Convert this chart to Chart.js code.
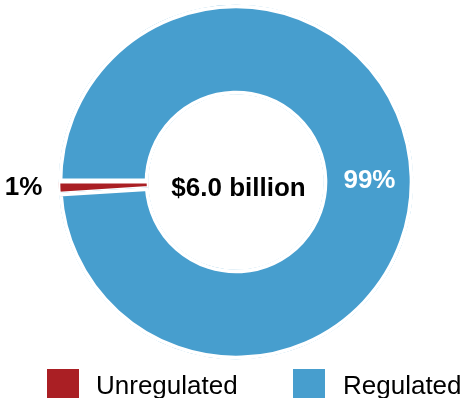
<!DOCTYPE html>
<html><head><meta charset="utf-8">
<script src="https://cdn.jsdelivr.net/npm/chart.js@4/dist/chart.umd.min.js"></script>
<style>
html,body{margin:0;padding:0;background:#fff;}
#wrap{position:relative;width:465px;height:398px;overflow:hidden;font-family:"Liberation Sans",Arial,Helvetica,sans-serif;}
canvas{position:absolute;left:0;top:0;}
.lg-box{position:absolute;top:369px;width:32px;height:29px;}
.lg-text{position:absolute;top:371px;font-size:26px;line-height:29px;color:#000;white-space:nowrap;}
</style></head><body>
<div id="wrap"><canvas id="c" width="465" height="398"></canvas><div id="legend"></div></div>
<script>
// ---- data ----
const categories = ['Unregulated', 'Regulated'];
const shares = [1, 99];
const centerLabel = '$6.0 billion';

// ---- styles ----
const sliceColors = ['#AA1F24', '#479ECE'];
const legendBoxX = [47, 293];
const legendTextX = [96, 343];

// HTML legend built from categories
const lg = document.getElementById('legend');
categories.forEach((c, i) => {
  const b = document.createElement('div');
  b.className = 'lg-box';
  b.style.left = legendBoxX[i] + 'px';
  b.style.background = sliceColors[i];
  lg.appendChild(b);
  const t = document.createElement('div');
  t.className = 'lg-text';
  t.style.left = legendTextX[i] + 'px';
  t.textContent = c;
  lg.appendChild(t);
});

const labelPlugin = {
  id: 'sliceLabels',
  afterDatasetsDraw(chart) {
    const ctx = chart.ctx;
    const meta = chart.getDatasetMeta(0);
    const a0 = meta.data[0];
    const cx = a0.x, cy = a0.y;
    ctx.save();
    ctx.font = 'bold 26px "Liberation Sans", Arial, Helvetica, sans-serif';
    ctx.textAlign = 'center';
    ctx.textBaseline = 'alphabetic';
    ctx.fillStyle = '#000';
    ctx.fillText(centerLabel, cx + 2.5, cy + 14);
    meta.data.forEach((arc, i) => {
      const txt = shares[i] + '%';
      const mid = (arc.startAngle + arc.endAngle) / 2;
      if (shares[i] < 5) {
        const r = arc.outerRadius + 35;
        ctx.fillStyle = '#000';
        ctx.fillText(txt, cx + Math.cos(mid) * r, cy + Math.sin(mid) * r + 6.5);
      } else {
        const p = arc.tooltipPosition();
        ctx.fillStyle = '#fff';
        ctx.fillText(txt, p.x + 1, p.y + 10);
      }
    });
    ctx.restore();
  }
};

new Chart(document.getElementById('c'), {
  type: 'doughnut',
  data: {
    labels: categories,
    datasets: [{
      data: shares,
      backgroundColor: sliceColors,
      borderColor: '#ffffff',
      borderWidth: [1.5, 3.5],
      borderAlign: 'inner',
      hoverOffset: 0
    }]
  },
  options: {
    responsive: false,
    animation: false,
    events: [],
    devicePixelRatio: 1,
    rotation: 266.4,
    radius: 177.5,
    cutout: 87.5,
    layout: { padding: { left: 7, right: 0, top: 4.5, bottom: 38.5 } },
    plugins: { legend: { display: false }, tooltip: { enabled: false } }
  },
  plugins: [labelPlugin]
});
</script>
</body></html>
